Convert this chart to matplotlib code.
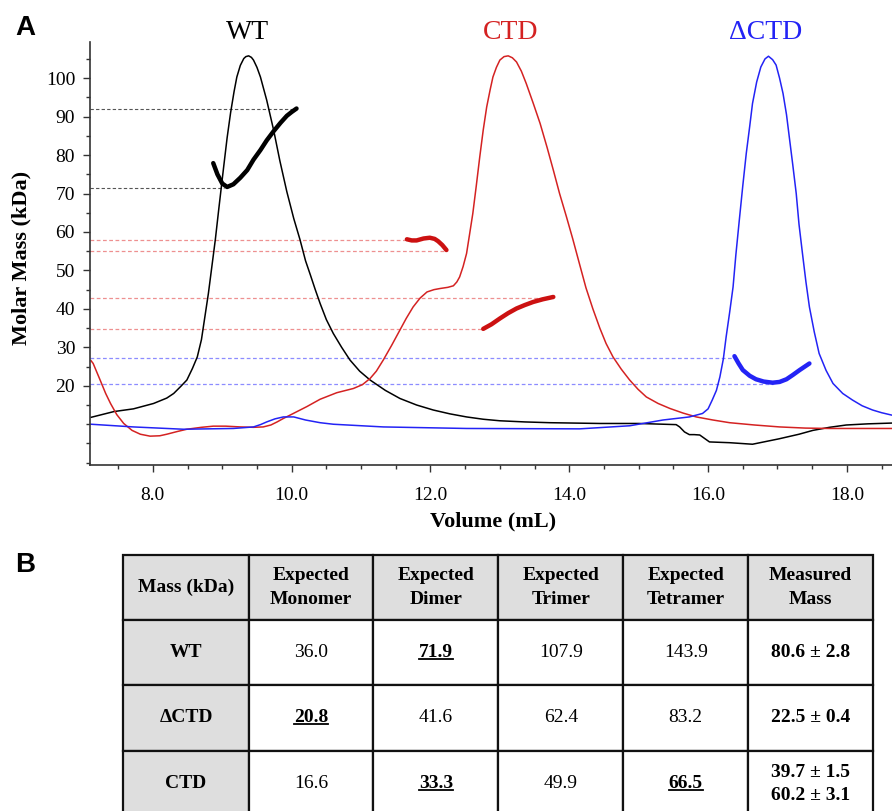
import matplotlib
matplotlib.use('Agg')
import matplotlib.pyplot as plt
from matplotlib.ticker import MultipleLocator, FormatStrFormatter
from matplotlib.patches import Rectangle

plt.rcParams['font.family'] = ['Liberation Serif', 'DejaVu Serif']

# ---------------- Panel A: SEC-MALS traces ----------------
wt_vol = [7.11, 7.44, 7.72, 8.01, 8.20, 8.30, 8.40, 8.49, 8.57, 8.64, 8.70, 8.75, 8.80, 8.85,
          8.90, 8.95, 9.02, 9.07, 9.12, 9.17, 9.21, 9.26, 9.31, 9.34, 9.38, 9.42, 9.45, 9.50,
          9.55, 9.64, 9.74, 9.83, 9.93, 10.03, 10.12, 10.20, 10.27, 10.34, 10.41, 10.50, 10.60,
          10.72, 10.84, 10.98, 11.13, 11.35, 11.56, 11.80, 12.04, 12.28, 12.52, 12.76, 13.00,
          13.36, 13.72, 14.44, 15.00, 15.54, 15.59, 15.66, 15.73, 15.80, 15.88, 15.95, 16.02,
          16.31, 16.64, 17.02, 17.31, 17.51, 17.75, 17.99, 18.30, 18.64]
wt_sig = [11.8, 13.3, 14.0, 15.4, 16.8, 18.0, 19.8, 21.5, 24.5, 27.5, 32.0, 38.0, 44.0, 51.0,
          58.0, 66.0, 76.9, 84.5, 91.0, 96.5, 100.3, 103.3, 105.1, 105.6, 105.8, 105.4, 104.7, 102.8,
          100.3, 94.3, 86.5, 78.5, 70.5, 63.5, 58.0, 52.5, 48.8, 45.0, 41.4, 37.2, 33.6,
          30.0, 26.7, 23.8, 21.5, 18.8, 16.7, 15.0, 13.7, 12.7, 11.9, 11.3, 10.9,
          10.6, 10.4, 10.2, 10.2, 9.9, 9.3, 8.0, 7.3, 7.3, 7.2, 6.3, 5.4,
          5.2, 4.8, 6.2, 7.4, 8.4, 9.2, 9.8, 10.1, 10.3]

ctd_vol = [7.11, 7.14, 7.24, 7.32, 7.39, 7.48, 7.58, 7.70, 7.82, 7.96, 8.10, 8.20, 8.35, 8.49,
           8.70, 8.87, 9.05, 9.26, 9.45, 9.59, 9.70, 9.79, 9.88, 9.98, 10.10, 10.22, 10.41, 10.65,
           10.89, 11.02, 11.13, 11.22, 11.32, 11.44, 11.56, 11.65, 11.75, 11.85, 11.95, 12.05,
           12.14, 12.25, 12.33, 12.38, 12.42, 12.47, 12.52, 12.56, 12.61, 12.66, 12.71, 12.76,
           12.81, 12.86, 12.90, 12.95, 13.00, 13.06, 13.12, 13.18, 13.24, 13.31, 13.38, 13.48,
           13.58, 13.68, 13.77, 13.86, 13.96, 14.05, 14.15, 14.24, 14.34, 14.44, 14.53, 14.63,
           14.75, 14.87, 14.99, 15.11, 15.28, 15.45, 15.64, 15.83, 16.07, 16.31, 16.67, 17.03,
           17.40, 17.75, 18.20, 18.64]
ctd_sig = [26.5, 25.8, 21.5, 18.0, 15.4, 12.5, 10.2, 8.4, 7.4, 6.9, 7.0, 7.4, 8.1, 8.7,
           9.2, 9.5, 9.5, 9.3, 9.2, 9.3, 9.8, 10.6, 11.5, 12.4, 13.5, 14.6, 16.5, 18.2,
           19.3, 20.3, 21.9, 23.8, 26.7, 30.5, 34.5, 37.5, 40.5, 42.8, 44.4, 45.0,
           45.3, 45.6, 46.0, 47.0, 48.3, 51.0, 54.4, 59.0, 64.8, 72.0, 79.5, 86.5,
           92.5, 97.0, 100.3, 102.8, 104.7, 105.6, 105.8, 105.3, 104.2, 101.8, 98.6, 93.5,
           88.2, 82.0, 76.1, 70.0, 63.9, 58.2, 51.5, 45.5, 40.0, 35.0, 31.0, 27.5,
           24.3, 21.5, 19.1, 17.1, 15.4, 14.1, 12.9, 11.9, 11.1, 10.4, 9.8, 9.3,
           9.0, 8.9, 8.9, 8.9]

dctd_vol = [7.11, 7.72, 8.44, 9.16, 9.45, 9.55, 9.64, 9.76, 9.88, 10.03, 10.20, 10.41, 10.60,
            11.32, 12.52, 14.15, 14.87, 15.35, 15.73, 15.92, 16.00, 16.06, 16.12, 16.17, 16.22,
            16.26, 16.31, 16.36, 16.40, 16.45, 16.50, 16.55, 16.60, 16.64, 16.70, 16.76, 16.82,
            16.87, 16.93, 16.98, 17.03, 17.08, 17.13, 17.17, 17.22, 17.27, 17.31, 17.36, 17.41,
            17.46, 17.53, 17.60, 17.70, 17.80, 17.94, 18.08, 18.22, 18.37, 18.50, 18.64]
dctd_sig = [10.0, 9.3, 8.7, 8.9, 9.3, 9.9, 10.6, 11.4, 11.9, 11.9, 11.1, 10.4, 10.0,
            9.3, 8.9, 8.8, 9.6, 11.1, 11.9, 12.8, 14.0, 16.3, 18.8, 22.3, 27.0,
            32.7, 39.0, 45.7, 54.0, 63.1, 72.0, 80.4, 87.5, 93.4, 99.0, 102.9, 105.0,
            105.7, 104.8, 103.4, 100.0, 96.0, 90.5, 84.7, 77.5, 70.0, 62.0, 54.4, 47.0,
            40.5, 34.0, 28.4, 24.0, 20.6, 18.0, 16.3, 14.8, 13.7, 13.0, 12.4]

# molar mass across the peaks (kDa)
wt_mm_vol = [8.87, 8.93, 9.00, 9.07, 9.16, 9.26, 9.36, 9.45, 9.55, 9.64, 9.74, 9.84, 9.93, 10.00, 10.07]
wt_mm = [77.9, 75.0, 72.6, 71.7, 72.4, 74.1, 76.1, 78.8, 81.3, 83.8, 86.2, 88.4, 90.2, 91.2, 92.1]
ctd_mm1_vol = [11.66, 11.73, 11.80, 11.90, 11.99, 12.06, 12.11, 12.17, 12.23]
ctd_mm1 = [58.1, 57.8, 57.8, 58.3, 58.5, 58.2, 57.6, 56.6, 55.3]
ctd_mm2_vol = [12.76, 12.88, 13.00, 13.12, 13.24, 13.36, 13.48, 13.62, 13.77]
ctd_mm2 = [34.8, 36.0, 37.5, 38.9, 40.1, 41.0, 41.8, 42.5, 43.1]
dctd_mm_vol = [16.38, 16.44, 16.50, 16.60, 16.69, 16.80, 16.93, 17.03, 17.13, 17.22, 17.32, 17.46]
dctd_mm = [27.7, 25.8, 24.1, 22.6, 21.7, 21.1, 20.8, 21.0, 21.7, 22.8, 24.1, 25.8]

# dashed guide lines: mass level and where they stop
wt_ref_y = [92.0, 71.5]
wt_ref_end = [10.07, 9.03]
ctd_ref_y = [57.9, 55.1, 42.9, 34.8]
ctd_ref_end = [11.66, 12.23, 13.76, 12.76]
dctd_ref_y = [27.3, 20.4]
dctd_ref_end = [16.38, 16.93]

# ---------------- Panel B: table ----------------
col_names = ['Mass (kDa)', 'Expected\nMonomer', 'Expected\nDimer', 'Expected\nTrimer',
             'Expected\nTetramer', 'Measured\nMass']
constructs = ['WT', '\u0394CTD', 'CTD']
monomer = [36.0, 20.8, 16.6]
dimer = [71.9, 41.6, 33.3]
trimer = [107.9, 62.4, 49.9]
tetramer = [143.9, 83.2, 66.5]
measured = ['80.6 \u00b1 2.8', '22.5 \u00b1 0.4', '39.7 \u00b1 1.5\n60.2 \u00b1 3.1']
# which expected value matches the measured mass (row, column)
matches = [(0, 2), (1, 1), (2, 2), (2, 4)]

RED = '#d42222'
BLUE = '#2323f5'

W, H = 892, 811
fig = plt.figure(figsize=(W / 100, H / 100), dpi=100)

tab = fig.add_axes([0, 0, 1, 1])
tab.set_xlim(0, W)
tab.set_ylim(H, 0)
tab.axis('off')

ax = fig.add_axes([90.4 / W, 1 - 465 / H, 801.6 / W, 423 / H])
ax.set_xlim(7.1, 18.65)
ax.set_ylim(-0.6, 109.4)

for y, xe in zip(wt_ref_y, wt_ref_end):
    ax.plot([7.1, xe], [y, y], color='#555555', lw=0.8, ls=(0, (3, 2)), zorder=1)
for y, xe in zip(ctd_ref_y, ctd_ref_end):
    ax.plot([7.1, xe], [y, y], color='#ee9090', lw=0.9, ls=(0, (3, 2)), zorder=1)
for y, xe in zip(dctd_ref_y, dctd_ref_end):
    ax.plot([7.1, xe], [y, y], color='#8c8cff', lw=0.9, ls=(0, (3, 2)), zorder=1)

ax.plot(wt_vol, wt_sig, color='black', lw=1.1, zorder=2)
ax.plot(ctd_vol, ctd_sig, color=RED, lw=1.1, zorder=2)
ax.plot(dctd_vol, dctd_sig, color=BLUE, lw=1.1, zorder=2)

ax.plot(wt_mm_vol, wt_mm, color='black', lw=3.2, solid_capstyle='round', zorder=3)
ax.plot(ctd_mm1_vol, ctd_mm1, color='#cc1111', lw=3.2, solid_capstyle='round', zorder=3)
ax.plot(ctd_mm2_vol, ctd_mm2, color='#cc1111', lw=3.2, solid_capstyle='round', zorder=3)
ax.plot(dctd_mm_vol, dctd_mm, color=BLUE, lw=3.2, solid_capstyle='round', zorder=3)

ax.text(9.37, 112.0, 'WT', color='black', fontsize=20, ha='center', va='center', clip_on=False)
ax.text(13.16, 112.0, 'CTD', color=RED, fontsize=20, ha='center', va='center', clip_on=False)
ax.text(16.83, 112.0, '\u0394CTD', color=BLUE, fontsize=20, ha='center', va='center', clip_on=False)

for s in ['top', 'right']:
    ax.spines[s].set_visible(False)
for s in ['left', 'bottom']:
    ax.spines[s].set_color('#333333')
    ax.spines[s].set_linewidth(1.2)

ax.set_xticks([8, 10, 12, 14, 16, 18])
ax.xaxis.set_major_formatter(FormatStrFormatter('%.1f'))
ax.xaxis.set_minor_locator(MultipleLocator(0.5))
ax.set_yticks([20, 30, 40, 50, 60, 70, 80, 90, 100])
ax.yaxis.set_minor_locator(MultipleLocator(5))
ax.tick_params(axis='both', which='major', labelsize=14, length=5, width=1, color='#333333')
ax.tick_params(axis='both', which='minor', length=3, width=1, color='#333333')
ax.tick_params(axis='x', which='major', pad=11)
ax.tick_params(axis='y', which='major', pad=6)

ax.set_xlabel('Volume (mL)', fontsize=16, fontweight='bold')
ax.xaxis.set_label_coords(0.5027, -0.111)
ax.set_ylabel('Molar Mass (kDa)', fontsize=16, fontweight='bold')
ax.yaxis.set_label_coords(-0.0741, 0.49)

fig.text(25 / W, 1 - 28 / H, 'A', fontsize=20, fontweight='bold', family='Liberation Sans',
         ha='center', va='center')
fig.text(25 / W, 1 - 565 / H, 'B', fontsize=20, fontweight='bold', family='Liberation Sans',
         ha='center', va='center')

# ---- table drawing ----
col_x = [123, 249, 373.3, 498.3, 623.3, 748.3, 873]
row_y = [555, 620, 685, 750.7, 816]
GREY = '#dedede'

cells = [col_names]
for i, name in enumerate(constructs):
    cells.append([name, '%.1f' % monomer[i], '%.1f' % dimer[i], '%.1f' % trimer[i],
                  '%.1f' % tetramer[i], measured[i]])

underline_texts = []
for r in range(4):
    for c in range(6):
        x0, x1 = col_x[c], col_x[c + 1]
        y0, y1 = row_y[r], row_y[r + 1]
        fc = GREY if (r == 0 or c == 0) else 'white'
        tab.add_patch(Rectangle((x0, y0), x1 - x0, y1 - y0, facecolor=fc, edgecolor='#111111',
                                lw=1.6, zorder=1))
        bold = r == 0 or c == 0 or c == 5 or (r - 1, c) in matches
        yc = (y0 + y1) / 2 if r < 3 else y0 + 33
        t = tab.text((x0 + x1) / 2, yc, cells[r][c], ha='center', va='center', fontsize=14,
                     fontweight='bold' if bold else 'normal',
                     linespacing=1.55 if r == 0 else 1.45, zorder=2)
        if r > 0 and (r - 1, c) in matches:
            underline_texts.append(t)

fig.canvas.draw()
renderer = fig.canvas.get_renderer()
inv = tab.transData.inverted()
for t in underline_texts:
    bb = t.get_window_extent(renderer)
    (xa, ya), (xb, yb) = inv.transform([[bb.x0, bb.y0], [bb.x1, bb.y0]])
    tab.plot([xa, xb], [ya - 2, yb - 2], color='black', lw=1.3, zorder=3)

fig.savefig('out.png', dpi=100)
